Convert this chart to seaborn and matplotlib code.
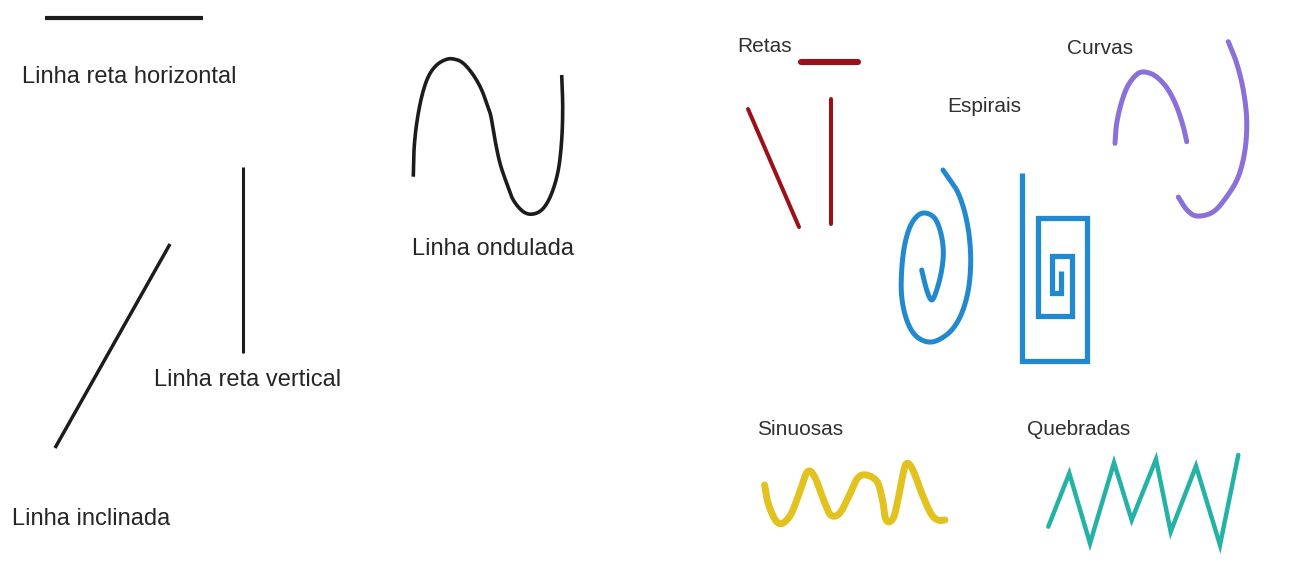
import matplotlib
matplotlib.use("Agg")
import numpy as np
import matplotlib.pyplot as plt
import seaborn as sns

sns.set_theme(style="white")
plt.rcParams['font.family'] = ['Liberation Sans', 'DejaVu Sans']

# ---------------- data (picture coordinates, y grows downward) ----------------
# Left panel: black example lines
horiz_x = [45, 203]
horiz_y = [18, 18]
vert_x = [243, 243]
vert_y = [167, 353]
incl_x = [170, 55]
incl_y = [244, 448]
wave_x = [413.3, 414, 416.7, 421.7, 428.3, 436.7, 446.7, 455, 463.3, 473.3, 481.7, 488.3,
          491, 495, 500, 506.7, 513.3, 523.3, 533.3, 543.3, 551.7, 558.3, 561.7, 562.7, 561.7]
wave_y = [176.7, 150, 123.3, 96.7, 76.7, 65, 59.3, 59.3, 63.3, 75, 90, 108.3,
          116.7, 140, 163.3, 183.3, 200, 211.7, 214, 208.3, 193.3, 170, 140, 106.7, 75]

# Right panel: "Retas"
reta_h_x = [801, 858]
reta_h_y = [62, 62]
reta_d_x = [748, 799]
reta_d_y = [109, 227]
reta_v_x = [831, 831]
reta_v_y = [99, 224]

# "Curvas"
curva1_x = [1115, 1116.7, 1121.7, 1128.3, 1138.3, 1148.3, 1158.3, 1168.3, 1176.7, 1183.3, 1186.7]
curva1_y = [143.3, 123.3, 101.7, 85, 73.3, 72.7, 78.3, 90, 106.7, 126.7, 141.7]
curva2_x = [1228.3, 1236.7, 1243.3, 1246.7, 1245, 1238.3, 1226.7, 1213, 1197, 1187, 1178.3]
curva2_y = [41.7, 63.3, 90, 120, 150, 176.7, 196.7, 212, 216, 210, 197]

# "Espirais"
espiral_x = [943, 950, 958.3, 965, 969.3, 970.7, 968.3, 961.7, 951.7, 938.3, 926.7, 915,
             906.7, 901.7, 901.7, 905, 911.7, 921.7, 933.3, 940, 943.3, 941.7, 936.7, 931.7,
             926.7, 921.7]
espiral_y = [170, 180, 193.3, 213.3, 236.7, 263.3, 290, 313.3, 330, 340, 341.7, 335,
             320, 296.7, 270, 243.3, 223.3, 213.3, 216.7, 230, 250, 270, 290, 300,
             290, 270]
quadrada_x = [1021.7, 1021.7, 1086.7, 1086.7, 1038.3, 1038.3, 1072, 1072, 1052, 1052, 1061, 1061]
quadrada_y = [173, 361, 361, 218, 218, 316, 316, 256, 256, 293, 293, 271]

# "Sinuosas"
sinuosa_x = [764.6, 768.2, 775.4, 782.5, 791.4, 800.4, 807.5, 814.6, 823.6, 830.7, 839.6,
             848.6, 857.5, 866.4, 877.1, 882.5, 886.1, 893.2, 898.6, 903.9, 907.5, 912.9,
             921.8, 930.7, 937.9, 945]
sinuosa_y = [485, 503.3, 520, 523.3, 513.3, 490, 471.7, 476.7, 500, 515, 513.3,
             496.7, 478.3, 475, 481.7, 500, 520, 518.3, 496.7, 470, 463.3, 470,
             493.3, 513.3, 520, 520]

# "Quebradas"
quebrada_x = [1048.3, 1069.3, 1090, 1114, 1131.7, 1156, 1170.7, 1196, 1220, 1238.3]
quebrada_y = [526.7, 473.3, 543.3, 462.7, 520, 459.3, 531.7, 466, 545, 455]

# Labels
left_labels = ["Linha reta horizontal", "Linha reta vertical", "Linha inclinada", "Linha ondulada"]
right_labels = ["Retas", "Espirais", "Curvas", "Sinuosas", "Quebradas"]

# ---------------- drawing ----------------
fig = plt.figure(figsize=(12.98, 5.79), dpi=100)
ax = fig.add_axes([0, 0, 1, 1])
fig.patch.set_facecolor("white")

BLACK = "#1c1c1c"
RED = "#9c1118"
BLUE = "#2389cf"
PURPLE = "#8a70d8"
YELLOW = "#e2c21f"
TEAL = "#23b2a4"


def smooth_path(xs, ys, n=14):
    """Catmull-Rom rendering of a hand-read path so that curved strokes look smooth."""
    p = np.column_stack([xs, ys]).astype(float)
    p = np.vstack([2 * p[0] - p[1], p, 2 * p[-1] - p[-2]])
    out = []
    t = np.linspace(0, 1, n, endpoint=False)[:, None]
    for i in range(1, len(p) - 2):
        p0, p1, p2, p3 = p[i - 1], p[i], p[i + 1], p[i + 2]
        seg = 0.5 * ((2 * p1) + (-p0 + p2) * t + (2 * p0 - 5 * p1 + 4 * p2 - p3) * t ** 2
                     + (-p0 + 3 * p1 - 3 * p2 + p3) * t ** 3)
        out.append(seg)
    out.append(p[-2][None, :])
    out = np.vstack(out)
    return out[:, 0], out[:, 1]


def draw(xs, ys, color, lw, cap="round", join="round", smooth=False):
    if smooth:
        xs, ys = smooth_path(xs, ys)
    sns.lineplot(x=xs, y=ys, sort=False, estimator=None, color=color, linewidth=lw,
                 solid_capstyle=cap, solid_joinstyle=join, ax=ax)


draw(horiz_x, horiz_y, BLACK, 3.0, cap="butt")
draw(vert_x, vert_y, BLACK, 2.2, cap="butt")
draw(incl_x, incl_y, BLACK, 2.5, cap="butt")
draw(wave_x, wave_y, BLACK, 2.6, cap="butt", smooth=True)

draw(reta_h_x, reta_h_y, RED, 4.4)
draw(reta_d_x, reta_d_y, RED, 2.9)
draw(reta_v_x, reta_v_y, RED, 2.9)

draw(curva1_x, curva1_y, PURPLE, 3.6, smooth=True)
draw(curva2_x, curva2_y, PURPLE, 3.6, smooth=True)

draw(espiral_x, espiral_y, BLUE, 3.6, smooth=True)
draw(quadrada_x, quadrada_y, BLUE, 3.8, cap="butt", join="miter")

draw(sinuosa_x, sinuosa_y, YELLOW, 5.0, smooth=True)
draw(quebrada_x, quebrada_y, TEAL, 3.2, cap="round", join="miter")

ax.set_xlim(0, 1298)
ax.set_ylim(579, 0)
ax.axis("off")

left_pos = [(22, 83), (154, 386), (12, 525), (412, 255)]
for label, (x, y) in zip(left_labels, left_pos):
    ax.text(x, y, label, fontsize=17, color="#262626", ha="left", va="baseline")

right_pos = [(737, 52), (947, 112), (1067, 54), (757, 435), (1027, 435)]
for label, (x, y) in zip(right_labels, right_pos):
    ax.text(x, y, label, fontsize=15, color="#303030", ha="left", va="baseline")

fig.savefig("out.png", dpi=100, facecolor="white")
